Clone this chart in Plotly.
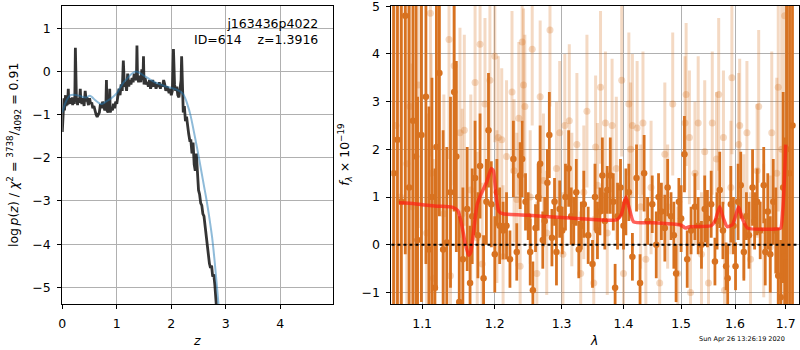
import plotly.graph_objects as go

# ---------------- left panel: log p(z) ----------------
z_pz = [0.00, 0.01, 0.02, 0.03, 0.04, 0.05, 0.06, 0.07, 0.08, 0.09,
        0.10, 0.11, 0.12, 0.13, 0.14, 0.15, 0.16, 0.17, 0.18, 0.19,
        0.20, 0.21, 0.22, 0.23, 0.24, 0.25, 0.26, 0.27, 0.28, 0.29,
        0.30, 0.32, 0.33, 0.34, 0.36, 0.38, 0.40, 0.42, 0.44, 0.45,
        0.46, 0.48, 0.50, 0.52, 0.54, 0.56, 0.58, 0.60, 0.62, 0.64,
        0.66, 0.68, 0.70, 0.72, 0.74, 0.76, 0.78, 0.80, 0.81, 0.82,
        0.84, 0.86, 0.87, 0.88, 0.90, 0.92, 0.94, 0.96, 0.98, 1.00,
        1.02, 1.04, 1.06, 1.08, 1.10, 1.12, 1.14, 1.16, 1.18, 1.20,
        1.22, 1.24, 1.26, 1.28, 1.30, 1.32, 1.34, 1.36, 1.37, 1.38,
        1.40, 1.42, 1.44, 1.46, 1.48, 1.49, 1.50, 1.52, 1.54, 1.56,
        1.58, 1.60, 1.62, 1.64, 1.66, 1.68, 1.70, 1.72, 1.74, 1.76,
        1.78, 1.80, 1.82, 1.84, 1.86, 1.88, 1.90, 1.92, 1.94, 1.96,
        1.98, 2.00, 2.02, 2.04, 2.06, 2.08, 2.10, 2.12, 2.14, 2.16,
        2.18, 2.19, 2.20, 2.22, 2.24, 2.26, 2.28, 2.30, 2.32, 2.34,
        2.36, 2.38, 2.40, 2.42, 2.44, 2.46, 2.48, 2.50, 2.52, 2.54,
        2.56, 2.58, 2.60, 2.62, 2.64, 2.66, 2.68, 2.70, 2.72, 2.74,
        2.76, 2.78, 2.80, 2.82, 2.84, 2.86]
logp_pz = [-1.40, -1.00, -0.85, -0.62, -0.90, -0.78, -0.55, -0.80, -0.72, -0.78,
           -0.68, -0.40, -0.75, -0.70, -0.62, -0.75, -0.68, -0.72, -0.60, -0.78,
           -0.70, -0.65, -0.75, -0.60, 0.55, -0.55, -0.70, -0.62, -0.78, -0.65,
           -0.72, -0.62, -0.40, -0.68, -0.75, -0.62, -0.80, -0.45, -0.70, -0.60,
           -0.70, -0.78, -0.62, -0.75, -0.72, -0.85, -0.80, -0.95, -1.00, -1.05,
           -1.00, -0.95, -0.75, -0.85, -0.70, -0.85, -0.90, -0.80, -0.20, -0.90,
           -0.95, -0.80, -0.40, -0.95, -0.85, -0.90, -0.75, -0.85, -0.70, -0.75,
           -0.55, -0.40, -0.55, -0.30, -0.45, 0.25, -0.35, -0.25, -0.45, -0.05,
           -0.35, -0.20, -0.30, -0.15, -0.25, -0.05, -0.15, -0.20, 0.60, -0.10,
           -0.25, -0.10, -0.25, 0.05, -0.20, 0.35, -0.30, -0.15, -0.30, -0.25,
           -0.35, -0.20, -0.40, -0.30, -0.20, -0.35, -0.25, -0.40, -0.30, -0.35,
           -0.25, -0.40, -0.30, -0.35, -0.20, -0.30, -0.45, -0.35, -0.40, -0.50,
           -0.40, -0.55, -0.45, 0.52, -0.30, -0.45, -0.35, -0.55, -0.60, -0.40,
           -0.20, 0.35, -0.40, -0.95, -0.80, -1.15, -1.05, -1.30, -1.45, -1.60,
           -1.60, -1.90, -1.65, -2.15, -2.30, -1.90, -2.50, -2.75, -2.85, -3.05,
           -3.10, -3.30, -3.35, -3.60, -3.70, -3.95, -4.20, -4.45, -4.55, -4.50,
           -4.75, -4.70, -4.95, -5.25, -5.60, -6.00]

z_prior = [0.00, 0.05, 0.10, 0.15, 0.20, 0.30, 0.40, 0.45, 0.50, 0.55,
           0.60, 0.70, 0.75, 0.80, 0.90, 1.00, 1.05, 1.10, 1.15, 1.20,
           1.25, 1.30, 1.35, 1.40, 1.50, 1.60, 1.70, 1.80, 1.90, 2.00,
           2.10, 2.20, 2.25, 2.30, 2.35, 2.40, 2.45, 2.50, 2.55, 2.60,
           2.65, 2.70, 2.75, 2.80, 2.85, 2.90]
logp_prior = [-0.95, -0.75, -0.62, -0.55, -0.54, -0.56, -0.60, -0.60, -0.56, -0.60,
              -0.66, -0.75, -0.74, -0.70, -0.62, -0.50, -0.40, -0.30, -0.22, -0.15,
              -0.08, -0.03, 0.00, -0.02, -0.10, -0.18, -0.25, -0.30, -0.35, -0.38,
              -0.42, -0.50, -0.60, -0.78, -1.00, -1.30, -1.62, -1.95, -2.30, -2.65,
              -3.00, -3.40, -3.85, -4.45, -5.15, -5.90]

z_ticks = [0, 1, 2, 3, 4]
logp_ticks = [-5, -4, -3, -2, -1, 0, 1]

# ---------------- right panel: spectrum ----------------
lam_dark = [1.063, 1.068, 1.073, 1.078, 1.083, 1.088, 1.092, 1.094, 1.099, 1.105,
            1.109, 1.113, 1.117, 1.119, 1.123, 1.128, 1.133, 1.138, 1.143, 1.146,
            1.150, 1.155, 1.161, 1.165, 1.168, 1.172, 1.176, 1.179, 1.184, 1.188,
            1.191, 1.195, 1.200, 1.203, 1.207, 1.212, 1.217, 1.222, 1.227, 1.232,
            1.237, 1.240, 1.245, 1.249, 1.252, 1.256, 1.260, 1.264, 1.267, 1.271,
            1.274, 1.278, 1.281, 1.285, 1.289, 1.292, 1.297, 1.301, 1.306, 1.311,
            1.315, 1.319, 1.323, 1.327, 1.331, 1.335, 1.342, 1.349, 1.353, 1.357,
            1.361, 1.365, 1.369, 1.373, 1.378, 1.383, 1.386, 1.390, 1.395, 1.400,
            1.404, 1.409, 1.415, 1.422, 1.428, 1.435, 1.441, 1.449, 1.456, 1.460,
            1.465, 1.471, 1.476, 1.482, 1.487, 1.491, 1.496, 1.500, 1.506, 1.511,
            1.518, 1.525, 1.531, 1.537, 1.543, 1.548, 1.555, 1.562, 1.566, 1.571,
            1.577, 1.583, 1.586, 1.592, 1.597, 1.601, 1.606, 1.611, 1.617, 1.622,
            1.627, 1.634, 1.638, 1.643, 1.649, 1.656, 1.659, 1.664, 1.669, 1.675,
            1.680, 1.685, 1.690, 1.695, 1.698, 1.702, 1.708, 1.714]
f_dark = [1.5, 2.2, 0.9, 4.8, 1.2, 2.6, 1.85, 0.1, 2.3, 3.1,
          -0.1, 1.0, -0.9, 2.05, 3.6, -0.1, 0.05, 1.1, 3.2, 1.85,
          -1.2, -0.3, 0.75, -0.8, 0.6, 1.4, 0.2, 1.65, -0.7, 0.9,
          2.4, 0.85, -0.2, 1.1, 0.4, 0.3, 0.4, -0.3, 1.8, -0.15,
          1.45, 1.8, 0.9, 0.6, -0.15, -0.95, 0.35, 1.0, 1.7, 0.1,
          0.5, 1.3, 2.3, 0.15, 0.9, -0.15, 0.75, 0.3, 1.0, 1.6,
          0.6, 0.5, 1.1, -0.1, 0.4, 0.85, 0.2, -0.4, 1.0, 0.3,
          0.7, 1.45, 0.5, 1.15, 1.45, 0.9, -0.9, 0.6, 1.2, 0.4,
          0.9, 1.1, -0.25, 1.4, -0.8, 1.5, 0.5, 0.85, 0.0, 1.0,
          0.7, 0.35, 1.2, 0.6, 0.2, -0.6, 0.9, 0.55, 1.9, -0.3,
          0.3, 0.8, 0.4, 0.0, 0.75, 0.55, 0.85, -0.35, 0.5, 1.15,
          0.3, -0.45, -0.7, 0.85, 0.4, -0.45, 0.9, 1.25, -0.15, 0.6,
          0.2, 1.2, 0.5, 0.9, 0.3, 1.25, -0.15, 0.7, -0.2, 0.9,
          0.3, -0.65, -1.1, 1.2, -0.25, 2.0, 1.5, 2.5]
e_dark = [9, 9, 7, 5, 5, 4, 3.5, 3, 3.5, 3.5,
          3, 2.5, 2.5, 3, 3, 2.5, 2, 2, 2.5, 2,
          1.8, 1.5, 1.3, 1.2, 1.0, 1.2, 0.9, 1.1, 0.9, 0.9,
          1.2, 0.9, 0.8, 0.7, 0.8, 0.6, 0.7, 0.6, 0.8, 0.6,
          0.7, 0.8, 0.6, 0.5, 0.7, 0.6, 0.5, 0.7, 0.8, 0.6,
          0.5, 0.7, 0.9, 0.6, 0.5, 0.7, 0.6, 0.5, 0.7, 0.8,
          0.6, 0.5, 0.7, 0.6, 0.5, 0.7, 0.6, 0.5, 0.7, 0.6,
          0.5, 0.8, 0.6, 0.5, 0.8, 0.6, 0.5, 0.7, 0.6, 0.5,
          0.7, 0.6, 0.5, 0.7, 0.6, 0.8, 0.5, 0.6, 0.7, 0.5,
          0.6, 0.7, 0.6, 0.5, 0.7, 0.6, 0.5, 0.7, 0.8, 0.6,
          0.5, 0.7, 0.6, 0.5, 0.7, 0.6, 0.7, 0.5, 0.6, 0.8,
          0.6, 0.5, 0.7, 0.8, 0.6, 0.5, 0.8, 0.7, 0.6, 0.5,
          0.7, 0.8, 0.6, 0.7, 0.6, 0.8, 0.7, 0.8, 0.8, 0.9,
          0.9, 1.0, 1.2, 2.0, 2.5, 9, 9, 9]

lam_light = [1.066, 1.072, 1.080, 1.084, 1.087, 1.095, 1.106, 1.111, 1.112, 1.115,
             1.129, 1.136, 1.138, 1.143, 1.151, 1.154, 1.157, 1.166, 1.172, 1.175,
             1.179, 1.182, 1.186, 1.193, 1.200, 1.203, 1.205, 1.210, 1.212, 1.217,
             1.225, 1.228, 1.232, 1.235, 1.237, 1.240, 1.242, 1.244, 1.252, 1.255,
             1.262, 1.267, 1.272, 1.277, 1.282, 1.292, 1.297, 1.302, 1.305, 1.312,
             1.316, 1.324, 1.330, 1.335, 1.340, 1.351, 1.354, 1.357, 1.362, 1.370,
             1.373, 1.381, 1.388, 1.397, 1.400, 1.409, 1.412, 1.415, 1.423, 1.429,
             1.433, 1.438, 1.447, 1.462, 1.471, 1.476, 1.485, 1.494, 1.507, 1.509,
             1.515, 1.517, 1.525, 1.531, 1.537, 1.543, 1.550, 1.557, 1.565, 1.569,
             1.578, 1.580, 1.592, 1.594, 1.607, 1.609, 1.617, 1.623, 1.630, 1.643,
             1.646, 1.656, 1.669, 1.672, 1.682, 1.685, 1.692, 1.698]
f_light = [2.5, 1.0, 1.7, 2.9, 0.8, 3.35, 0.25, 4.85, 1.5, -0.7,
           0.65, 4.3, -0.65, 3.75, 2.35, 0.65, 2.4, 1.15, 3.4, 0.15,
           4.2, -0.4, 2.95, 3.45, 3.95, 0.8, 2.25, 2.2, -0.25, 1.85,
           3.2, 1.55, 0.95, 2.65, -0.45, 4.25, 3.35, 2.9, 1.0, 4.1,
           -0.6, 3.1, 1.35, 0.25, 4.5, 1.6, 2.35, -0.2, 2.5, 2.6,
           0.95, 2.1, -0.6, 1.1, 2.8, -0.8, 2.05, 1.25, 3.3, 2.55,
           0.25, 2.5, 1.6, 3.45, -0.6, 2.95, 2.0, 2.5, 2.45, 0.8,
           2.55, -0.3, 1.2, -0.8, 1.9, 0.8, 2.95, -0.6, 2.55, 3.15,
           2.25, -1.0, 1.5, 2.55, -0.2, 1.95, -0.8, 2.55, 1.8, 3.15,
           2.25, -0.95, 1.2, 3.5, 2.1, 2.5, 0.6, 2.35, -0.3, 1.55,
           2.9, 0.3, -0.05, 2.35, 1.5, 3.3, 2.0, 4.8]
e_light = [8, 6, 4, 3, 3, 3, 2.5, 3, 2.5, 2.5,
           2.5, 2.5, 2.2, 2.5, 2.2, 2.2, 2.0, 2.0, 2.0, 1.8,
           2.0, 1.7, 1.8, 1.7, 1.8, 1.6, 1.7, 1.5, 1.5, 1.6,
           1.7, 1.5, 1.4, 1.6, 1.5, 1.7, 1.6, 1.5, 1.4, 1.6,
           1.5, 1.6, 1.4, 1.3, 1.6, 1.4, 1.5, 1.3, 1.5, 1.6,
           1.4, 1.5, 1.3, 1.4, 1.6, 1.4, 1.5, 1.3, 1.6, 1.5,
           1.3, 1.4, 1.5, 1.6, 1.3, 1.5, 1.4, 1.5, 1.4, 1.3,
           1.5, 1.3, 1.4, 1.4, 1.5, 1.3, 1.5, 1.4, 1.4, 1.5,
           1.4, 1.3, 1.5, 1.4, 1.3, 1.5, 1.4, 1.5, 1.4, 1.6,
           1.4, 1.3, 1.4, 1.6, 1.5, 1.4, 1.3, 1.5, 1.4, 1.4,
           1.6, 1.4, 1.5, 1.7, 2.0, 2.6, 4, 5]

lam_model = [1.070, 1.090, 1.100, 1.120, 1.140, 1.148, 1.153, 1.158, 1.163, 1.166,
             1.170, 1.175, 1.180, 1.188, 1.195, 1.198, 1.202, 1.206, 1.212, 1.250,
             1.300, 1.350, 1.388, 1.396, 1.404, 1.410, 1.417, 1.450, 1.490, 1.500,
             1.508, 1.515, 1.555, 1.562, 1.571, 1.578, 1.585, 1.595, 1.601, 1.607,
             1.614, 1.624, 1.680, 1.690, 1.694, 1.698, 1.700]
f_model = [0.88, 0.86, 0.84, 0.81, 0.79, 0.72, 0.45, 0.05, -0.22, -0.15,
           0.30, 0.85, 1.05, 1.30, 1.60, 1.55, 1.00, 0.70, 0.65, 0.62,
           0.57, 0.53, 0.52, 0.62, 1.00, 0.75, 0.48, 0.46, 0.43, 0.41,
           0.35, 0.38, 0.40, 0.50, 0.80, 0.55, 0.38, 0.42, 0.60, 0.79,
           0.55, 0.35, 0.33, 0.35, 0.70, 1.50, 2.10]

lam_ticks = [1.1, 1.2, 1.3, 1.4, 1.5, 1.6, 1.7]
lam_ticktext = ["1.1", "1.2", "1.3", "1.4", "1.5", "1.6", "1.7"]
flux_ticks = [-1, 0, 1, 2, 3, 4, 5]

# ---------------- figure ----------------
W, H = 800, 350
ML, MR, MT, MB = 62, 0.5, 6, 46
PW, PH = W - ML - MR, H - MT - MB
FONT = "DejaVu Sans"
ORANGE = "rgb(216,114,32)"
ORANGE_LIGHT = "rgba(216,114,32,0.27)"


def px_x(px):
    return (px - ML) / PW


def px_y(py):
    return (H - MB - py) / PH


fig = go.Figure()

fig.add_trace(go.Scatter(x=z_pz, y=logp_pz, mode="lines",
                         line=dict(color="rgba(30,30,30,0.9)", width=2.8),
                         xaxis="x", yaxis="y", hoverinfo="skip"))
fig.add_trace(go.Scatter(x=z_prior, y=logp_prior, mode="lines",
                         line=dict(color="rgba(31,119,180,0.5)", width=2, shape="spline"),
                         xaxis="x", yaxis="y", hoverinfo="skip"))

fig.add_trace(go.Scatter(x=lam_light, y=f_light, mode="markers",
                         marker=dict(color=ORANGE_LIGHT, size=7),
                         error_y=dict(type="data", array=e_light, color=ORANGE_LIGHT,
                                      thickness=3, width=0),
                         xaxis="x2", yaxis="y2", hoverinfo="skip"))
fig.add_trace(go.Scatter(x=lam_dark, y=f_dark, mode="markers",
                         marker=dict(color=ORANGE, size=6.5),
                         error_y=dict(type="data", array=e_dark, color=ORANGE,
                                      thickness=2.8, width=0),
                         xaxis="x2", yaxis="y2", hoverinfo="skip"))
fig.add_trace(go.Scatter(x=lam_model, y=f_model, mode="lines",
                         line=dict(color="rgba(255,30,20,0.7)", width=3.5, shape="spline",
                                   smoothing=0.5),
                         xaxis="x2", yaxis="y2", hoverinfo="skip"))

fig.add_shape(type="line", xref="x2 domain", yref="y2", x0=0, x1=1, y0=0, y1=0,
              line=dict(color="black", width=2, dash="dot"), layer="above")

axis_common = dict(showgrid=True, gridcolor="#b0b0b0", gridwidth=1,
                   showline=True, linecolor="black", linewidth=1, mirror=True,
                   ticks="outside", ticklen=4, tickwidth=1, tickcolor="black",
                   zeroline=False, automargin=False, ticklabeloverflow="allow",
                   tickfont=dict(family=FONT, size=12.5, color="black"),
                   ticklabelstandoff=4)

fig.update_layout(
    width=W, height=H,
    margin=dict(l=ML, r=MR, t=MT, b=MB, autoexpand=False),
    paper_bgcolor="white", plot_bgcolor="white",
    showlegend=False,
    font=dict(family=FONT, size=12.5, color="black"),
    xaxis=dict(domain=[px_x(62.3), px_x(333.3)], range=[0, 4.97], tickvals=z_ticks,
               anchor="y", **axis_common),
    yaxis=dict(domain=[0, 1], range=[-5.386, 1.516], tickvals=logp_ticks,
               anchor="x", **axis_common),
    xaxis2=dict(domain=[px_x(391.7), 1], type="log", range=[0.02545, 0.2374],
                tickvals=lam_ticks, ticktext=lam_ticktext, anchor="y2", **axis_common),
    yaxis2=dict(domain=[0, 1], range=[-1.24, 5.004], tickvals=flux_ticks,
                anchor="x2", **axis_common),
)


def ann(text, px, py, size=12.5, angle=0, xanchor="center", yanchor="middle", align="center"):
    fig.add_annotation(text=text, x=px_x(px), y=px_y(py), xref="paper", yref="paper",
                       showarrow=False, textangle=angle, xanchor=xanchor, yanchor=yanchor,
                       align=align, font=dict(family=FONT, size=size, color="black"))


ann("j163436p4022<br>ID=614\u00a0\u00a0\u00a0\u00a0z=1.3916", 320, 31,
    xanchor="right", align="right")
ann("<i>z</i>", 197, 340)
ann("<i>λ</i>", 594, 340)
ann("log\u2009<i>p</i>(<i>z</i>) / <i>χ</i><sup>2</sup> = <sup>3738</sup>/<sub>4092</sub> = 0.91",
    14, 155, angle=-90)
ann("<i>f</i><sub><i>λ</i></sub> × 10<sup>−19</sup>", 345, 155, angle=-90)
ann("Sun Apr 26 13:26:19 2020", 742, 339, size=6.5)

fig.write_html("out.html", config={"displayModeBar": False},
               post_script="document.body.style.margin='0';")
